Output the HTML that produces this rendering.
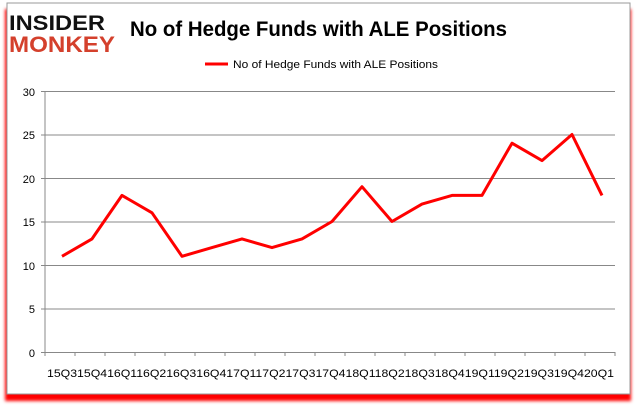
<!DOCTYPE html>
<html><head><style>
body{margin:0;width:637px;height:408px;background:#fff;overflow:hidden;font-family:"Liberation Sans",sans-serif}
</style></head><body>
<svg width="637" height="408" xmlns="http://www.w3.org/2000/svg">
<defs><filter id="b" x="-5%" y="-5%" width="110%" height="110%"><feGaussianBlur stdDeviation="1.5"/></filter></defs>
<rect x="5" y="9" width="626" height="392" fill="#f00" filter="url(#b)"/>
<rect x="7" y="3" width="623" height="391" fill="#fff" stroke="#999" stroke-width="1"/>
<text x="9" y="30" font-size="21" font-weight="bold" fill="#111" textLength="96" lengthAdjust="spacingAndGlyphs">INSIDER</text>
<text x="9" y="52" font-size="22" font-weight="bold" fill="#d4402c" textLength="106" lengthAdjust="spacingAndGlyphs">MONKEY</text>
<text x="130" y="36" font-size="21" font-weight="bold" fill="#000" textLength="377" lengthAdjust="spacingAndGlyphs">No of Hedge Funds with ALE Positions</text>
<line x1="205" y1="64" x2="228" y2="64" stroke="#f00" stroke-width="3"/>
<text x="233" y="68" font-size="11" fill="#000" textLength="205" lengthAdjust="spacingAndGlyphs">No of Hedge Funds with ALE Positions</text>
<g stroke="#888" stroke-width="1">
<line x1="45" y1="91.5" x2="615" y2="91.5"/>
<line x1="45" y1="135" x2="615" y2="135"/>
<line x1="45" y1="178.5" x2="615" y2="178.5"/>
<line x1="45" y1="222" x2="615" y2="222"/>
<line x1="45" y1="265.5" x2="615" y2="265.5"/>
<line x1="45" y1="309" x2="615" y2="309"/>
<line x1="45" y1="352.5" x2="615" y2="352.5"/>
<line x1="45" y1="91" x2="45" y2="356"/>
<line x1="41" y1="91.5" x2="45" y2="91.5"/><line x1="41" y1="135" x2="45" y2="135"/><line x1="41" y1="178.5" x2="45" y2="178.5"/><line x1="41" y1="222" x2="45" y2="222"/><line x1="41" y1="265.5" x2="45" y2="265.5"/><line x1="41" y1="309" x2="45" y2="309"/><line x1="41" y1="352.5" x2="45" y2="352.5"/>
</g>
<g stroke="#888"><path d="M75 352v4M105 352v4M135 352v4M165 352v4M195 352v4M225 352v4M255 352v4M285 352v4M315 352v4M345 352v4M375 352v4M405 352v4M435 352v4M465 352v4M495 352v4M525 352v4M555 352v4M585 352v4M615 352v4"/></g>
<g font-size="11" fill="#000" text-anchor="end">
<text x="35" y="96">30</text><text x="35" y="139">25</text><text x="35" y="183">20</text><text x="35" y="226">15</text><text x="35" y="270">10</text><text x="35" y="313">5</text><text x="35" y="357">0</text>
</g>
<text x="47" y="377" font-size="11" fill="#000" textLength="567" lengthAdjust="spacingAndGlyphs">15Q315Q416Q116Q216Q316Q417Q117Q217Q317Q418Q118Q218Q318Q419Q119Q219Q319Q420Q1</text>
<polyline fill="none" stroke="#f00" stroke-width="3" stroke-linejoin="round" points="62,256.3 92,238.9 122,195.4 152,212.8 182,256.3 212,247.6 242,238.9 272,247.6 302,238.9 332,221.5 362,186.7 392,221.5 422,204.1 452,195.4 482,195.4 512,143.2 542,160.6 572,134.5 602,195.4"/>
</svg>
</body></html>
